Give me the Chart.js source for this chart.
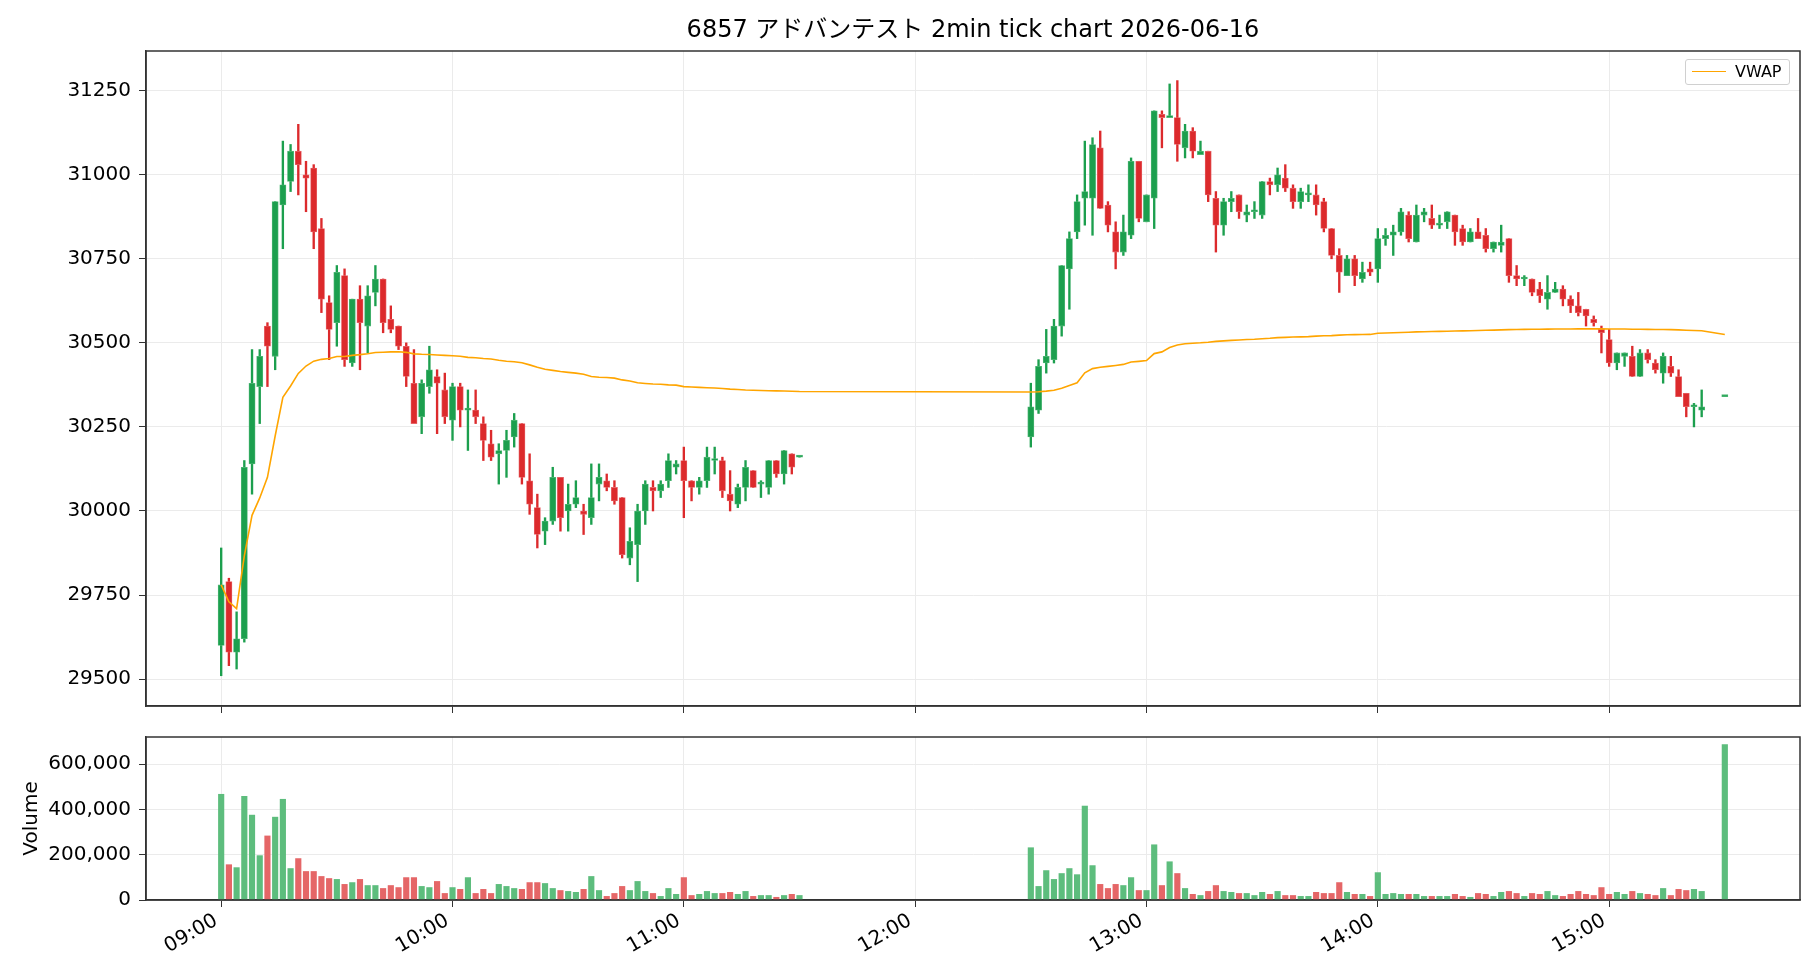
<!DOCTYPE html>
<html>
<head>
<meta charset="utf-8">
<script src="https://cdn.jsdelivr.net/npm/chart.js@4.4.1/dist/chart.umd.min.js"></script>
<style>
  html, body { margin: 0; padding: 0; background: #fff; }
  #wrap { position: relative; width: 1820px; height: 980px; }
  #priceBox { position: absolute; left: 0; top: 0; width: 1820px; height: 726px; }
  #volBox { position: absolute; left: 0; top: 717px; width: 1820px; height: 263px; }
  #legend {
    position: absolute; left: 1685px; top: 59px; width: 105px; height: 26px;
    border: 1px solid #d0d0d0; border-radius: 3px; background: rgba(255,255,255,0.85);
    font-family: 'DejaVu Sans', sans-serif; font-size: 16px; color: #000;
    box-sizing: border-box;
  }
  #legend .ln { position: absolute; left: 6px; top: 11px; width: 34px; height: 0; border-top: 1.5px solid #ffa500; }
  #legend .tx { position: absolute; left: 49px; top: 2px; line-height: 20px; }
</style>
</head>
<body>
<div id="wrap">
  <div id="priceBox"><canvas id="priceChart" width="1820" height="726"></canvas></div>
  <div id="volBox"><canvas id="volChart" width="1820" height="263"></canvas></div>
  <div id="legend"><span class="ln"></span><span class="tx">VWAP</span></div>
</div>
<script>
// 2分足の時刻
const times = [
  '09:00','09:02','09:04','09:06','09:08','09:10','09:12','09:14','09:16','09:18',
  '09:20','09:22','09:24','09:26','09:28','09:30','09:32','09:34','09:36','09:38',
  '09:40','09:42','09:44','09:46','09:48','09:50','09:52','09:54','09:56','09:58',
  '10:00','10:02','10:04','10:06','10:08','10:10','10:12','10:14','10:16','10:18',
  '10:20','10:22','10:24','10:26','10:28','10:30','10:32','10:34','10:36','10:38',
  '10:40','10:42','10:44','10:46','10:48','10:50','10:52','10:54','10:56','10:58',
  '11:00','11:02','11:04','11:06','11:08','11:10','11:12','11:14','11:16','11:18',
  '11:20','11:22','11:24','11:26','11:28','11:30',
  '12:30','12:32','12:34','12:36','12:38','12:40','12:42','12:44','12:46','12:48',
  '12:50','12:52','12:54','12:56','12:58','13:00','13:02','13:04','13:06','13:08',
  '13:10','13:12','13:14','13:16','13:18','13:20','13:22','13:24','13:26','13:28',
  '13:30','13:32','13:34','13:36','13:38','13:40','13:42','13:44','13:46','13:48',
  '13:50','13:52','13:54','13:56','13:58','14:00','14:02','14:04','14:06','14:08',
  '14:10','14:12','14:14','14:16','14:18','14:20','14:22','14:24','14:26','14:28',
  '14:30','14:32','14:34','14:36','14:38','14:40','14:42','14:44','14:46','14:48',
  '14:50','14:52','14:54','14:56','14:58','15:00','15:02','15:04','15:06','15:08',
  '15:10','15:12','15:14','15:16','15:18','15:20','15:22','15:24','15:30'
];

const opens = [
  29600,29790,29580,29620,30140,30370,30550,30460,30910,30980,
  31070,31000,31020,30840,30620,30560,30700,30440,30630,30550,
  30650,30690,30570,30550,30490,30380,30280,30370,30400,30360,
  30270,30370,30300,30300,30260,30200,30170,30180,30220,30260,
  30090,30010,29940,29970,30100,30000,30020,30000,29980,30080,
  30090,30070,30040,29860,29900,30000,30070,30060,30090,30130,
  30150,30090,30070,30090,30150,30150,30050,30020,30070,30120,
  30080,30070,30150,30110,30170,30160,
  30220,30300,30440,30450,30550,30720,30830,30930,30930,31080,
  30910,30830,30770,30820,31040,30860,30930,31180,31170,31170,
  31080,31130,31060,31070,30930,30850,30920,30940,30880,30890,
  30880,30980,30970,30990,30960,30920,30940,30940,30920,30840,
  30760,30700,30750,30690,30720,30720,30810,30820,30830,30880,
  30800,30880,30870,30850,30860,30880,30840,30800,30830,30820,
  30780,30790,30810,30700,30690,30690,30660,30630,30650,30660,
  30630,30610,30600,30570,30540,30510,30440,30460,30460,30400,
  30470,30440,30410,30430,30400,30350,30310,30300,30340
];
const highs = [
  29890,29800,29700,30150,30480,30480,30560,30920,31100,31090,
  31150,31040,31030,30870,30640,30730,30720,30630,30670,30670,
  30730,30690,30610,30550,30500,30480,30390,30490,30420,30410,
  30380,30380,30360,30360,30280,30240,30200,30240,30290,30260,
  30170,30050,29980,30130,30100,30080,30090,30020,30140,30140,
  30110,30090,30040,29950,30020,30090,30090,30090,30170,30150,
  30190,30090,30100,30190,30190,30160,30120,30080,30150,30120,
  30090,30150,30150,30180,30170,30160,
  30380,30450,30540,30570,30730,30830,30940,31100,31110,31130,
  30920,30860,30880,31050,31040,30940,31190,31190,31270,31280,
  31150,31140,31100,31070,30950,30930,30950,30940,30910,30920,
  30980,30990,31020,31030,30970,30960,30970,30970,30930,30840,
  30780,30760,30760,30740,30740,30840,30840,30850,30900,30890,
  30910,30900,30910,30880,30890,30880,30850,30840,30870,30840,
  30800,30850,30810,30730,30700,30690,30680,30700,30680,30670,
  30640,30650,30600,30580,30550,30540,30470,30470,30490,30480,
  30480,30450,30470,30460,30420,30350,30320,30360,30340
];
const lows = [
  29510,29540,29530,29610,30050,30260,30370,30420,30780,30950,
  30940,30890,30780,30590,30450,30490,30430,30430,30420,30470,
  30610,30530,30530,30480,30370,30260,30230,30350,30230,30260,
  30210,30250,30180,30260,30150,30150,30080,30100,30190,30080,
  29990,29890,29900,29960,29940,29940,30010,29930,29960,30030,
  30060,30020,29860,29840,29790,29960,30000,30040,30070,30110,
  29980,30030,30050,30070,30110,30040,30000,30010,30030,30070,
  30040,30050,30100,30080,30110,30160,
  30190,30290,30410,30440,30520,30600,30810,30850,30820,30900,
  30830,30720,30760,30810,30860,30860,30840,31080,31170,31040,
  31050,31050,31060,30920,30770,30820,30890,30870,30860,30870,
  30870,30940,30950,30950,30900,30900,30920,30880,30830,30750,
  30650,30700,30670,30680,30700,30680,30790,30760,30820,30800,
  30800,30860,30840,30840,30840,30790,30790,30800,30810,30770,
  30770,30770,30680,30670,30670,30640,30620,30600,30650,30610,
  30590,30580,30550,30550,30470,30430,30420,30430,30400,30400,
  30440,30410,30380,30400,30340,30280,30250,30280,30340
];
const closes = [
  29780,29580,29620,30130,30380,30460,30490,30920,30970,31070,
  31030,30990,30830,30630,30540,30710,30450,30630,30560,30640,
  30690,30560,30540,30490,30400,30260,30380,30420,30380,30280,
  30370,30300,30300,30280,30210,30160,30180,30210,30270,30100,
  30020,29930,29970,30100,29980,30020,30040,29990,30040,30100,
  30070,30030,29870,29910,30000,30080,30060,30080,30150,30140,
  30090,30070,30090,30160,30150,30060,30030,30070,30130,30070,
  30080,30150,30110,30180,30130,30160,
  30310,30430,30460,30550,30730,30810,30920,30950,31090,30900,
  30850,30770,30830,31040,30870,30940,31190,31170,31170,31090,
  31130,31070,31070,30940,30850,30920,30930,30890,30890,30890,
  30980,30970,31000,30960,30920,30950,30940,30910,30840,30760,
  30710,30750,30700,30710,30710,30810,30820,30830,30890,30810,
  30880,30890,30850,30850,30890,30830,30800,30830,30810,30780,
  30800,30800,30700,30690,30690,30650,30640,30650,30660,30630,
  30610,30590,30580,30560,30530,30440,30470,30470,30400,30470,
  30450,30420,30460,30410,30340,30310,30310,30310,30340
];
const volumes = [
  467000,156000,143000,458000,375000,196000,283000,366000,445000,139000,
  183000,126000,126000,104000,95000,91000,69000,77000,91000,64000,
  64000,51000,64000,55000,99000,99000,60000,55000,82000,29000,
  55000,47000,99000,29000,47000,29000,69000,60000,51000,47000,
  77000,77000,73000,51000,42000,38000,34000,47000,104000,42000,
  16000,29000,60000,42000,82000,38000,29000,16000,51000,25000,
  99000,20000,25000,38000,29000,29000,34000,25000,38000,16000,
  20000,20000,12000,20000,25000,20000,
  231000,60000,130000,91000,117000,139000,112000,415000,152000,69000,
  51000,69000,64000,99000,42000,42000,244000,64000,169000,117000,
  51000,25000,20000,38000,64000,38000,34000,29000,29000,20000,
  34000,25000,38000,20000,20000,16000,16000,34000,29000,29000,
  77000,34000,25000,25000,16000,121000,25000,29000,25000,25000,
  25000,16000,16000,16000,16000,25000,16000,12000,29000,25000,
  16000,34000,38000,29000,16000,29000,25000,38000,20000,16000,
  25000,38000,25000,20000,55000,25000,34000,25000,38000,29000,
  25000,20000,51000,20000,47000,42000,47000,38000,686000
];

// 軸の目盛り
const priceTicks = [29500, 29750, 30000, 30250, 30500, 30750, 31000, 31250];
const volumeTicks = [0, 200000, 400000, 600000];
const hourTicks = ['09:00', '10:00', '11:00', '12:00', '13:00', '14:00', '15:00'];

const FONT = "'DejaVu Sans', 'Noto Sans CJK JP', sans-serif";
const UP = '#1c9f4e', DOWN = '#dc2a2c';
const UP_EDGE = '#52b878', DOWN_EDGE = '#e76468';
const UP_VOL = '#5dbd7d', DOWN_VOL = '#e56667';

// 09:00 からの経過分
function toMin(t) {
    const p = t.split(':');
    return (parseInt(p[0], 10) - 9) * 60 + parseInt(p[1], 10);
}
function toHHMM(v) {
    const h = 9 + Math.floor(v / 60), m = v % 60;
    return String(h).padStart(2, '0') + ':' + String(m).padStart(2, '0');
}

const xs = times.map(toMin);
const isUp = closes.map((c, i) => c >= opens[i]);

// VWAP (終値 x 出来高 の累積)
let pv = 0, vv = 0;
const vwap = closes.map((c, i) => {
    pv += c * volumes[i];
    vv += volumes[i];
    return { x: xs[i], y: pv / vv };
});

// 外枠
const frame = {
    id: 'frame',
    afterDraw(chart) {
        const { ctx, chartArea: a } = chart;
        ctx.save();
        ctx.strokeStyle = '#333';
        ctx.lineWidth = 1.5;
        ctx.strokeRect(a.left, a.top, a.right - a.left, a.bottom - a.top);
        ctx.restore();
    }
};

function xScale(showLabels) {
    return {
        type: 'linear',
        min: -19.5,
        max: 409.5,
        offset: false,
        afterBuildTicks: s => { s.ticks = hourTicks.map(t => ({ value: toMin(t) })); },
        ticks: {
            display: showLabels,
            font: { family: FONT, size: 20 },
            color: '#000',
            minRotation: 30,
            maxRotation: 30,
            padding: 2,
            labelOffset: -5,
            callback: v => toHHMM(v)
        },
        grid: { offset: false, color: '#ebebeb', lineWidth: 1, tickColor: '#333', tickLength: 7 },
        border: { color: '#333', width: 1.5 },
        afterFit: s => { s.height = showLabels ? 80 : 20; }
    };
}

new Chart(document.getElementById('priceChart'), {
    type: 'bar',
    data: {
        datasets: [
            {
                type: 'line',
                label: 'VWAP',
                data: vwap,
                borderColor: '#ffa500',
                borderWidth: 1.6,
                pointRadius: 0,
                tension: 0,
                order: 0
            },
            {
                label: 'body',
                data: xs.map((x, i) => ({ x: x, y: [opens[i], closes[i]] })),
                backgroundColor: isUp.map(u => u ? UP : DOWN),
                borderColor: isUp.map(u => u ? UP_EDGE : DOWN_EDGE),
                borderWidth: 0.8,
                borderSkipped: false,
                barThickness: 6.2,
                minBarLength: 2,
                grouped: false,
                order: 1
            },
            {
                label: 'wick',
                data: xs.map((x, i) => ({ x: x, y: [lows[i], highs[i]] })),
                backgroundColor: isUp.map(u => u ? UP : DOWN),
                barThickness: 1.7,
                grouped: false,
                order: 2
            }
        ]
    },
    options: {
        responsive: false,
        animation: false,
        layout: { padding: { left: 0, right: 20, top: 0, bottom: 0 } },
        plugins: {
            legend: { display: false },
            tooltip: { enabled: false },
            title: {
                display: true,
                fullSize: false,
                text: '6857 アドバンテスト 2min tick chart 2026-06-16',
                color: '#000',
                font: { family: FONT, size: 24, weight: 'normal', lineHeight: 1.2 },
                padding: { top: 16, bottom: 6.2 }
            }
        },
        scales: {
            x: xScale(false),
            y: {
                min: 29420,
                max: 31368,
                afterBuildTicks: s => { s.ticks = priceTicks.map(v => ({ value: v })); },
                ticks: { font: { family: FONT, size: 20 }, color: '#000', padding: 8, callback: v => String(v) },
                grid: { color: '#ebebeb', tickColor: '#333', tickLength: 7 },
                border: { color: '#333', width: 1.5 },
                afterFit: s => { s.width = 146; }
            }
        }
    },
    plugins: [frame]
});

new Chart(document.getElementById('volChart'), {
    type: 'bar',
    data: {
        datasets: [{
            label: 'Volume',
            data: xs.map((x, i) => ({ x: x, y: volumes[i] })),
            backgroundColor: isUp.map(u => u ? UP_VOL : DOWN_VOL),
            barThickness: 5.5,
            grouped: false
        }]
    },
    options: {
        responsive: false,
        animation: false,
        layout: { padding: { left: 0, right: 20, top: 0, bottom: 0 } },
        plugins: { legend: { display: false }, tooltip: { enabled: false } },
        scales: {
            x: xScale(true),
            y: {
                min: 0,
                max: 720000,
                afterBuildTicks: s => { s.ticks = volumeTicks.map(v => ({ value: v })); },
                ticks: {
                    font: { family: FONT, size: 20 }, color: '#000', padding: 8,
                    callback: v => v.toLocaleString('en-US')
                },
                title: {
                    display: true, text: 'Volume', color: '#000',
                    font: { family: FONT, size: 20 }, padding: { top: 20, bottom: 0 }
                },
                grid: { color: '#ebebeb', tickColor: '#333', tickLength: 7 },
                border: { color: '#333', width: 1.5 },
                afterFit: s => { s.width = 146; }
            }
        }
    },
    plugins: [frame]
});
</script>
</body>
</html>
